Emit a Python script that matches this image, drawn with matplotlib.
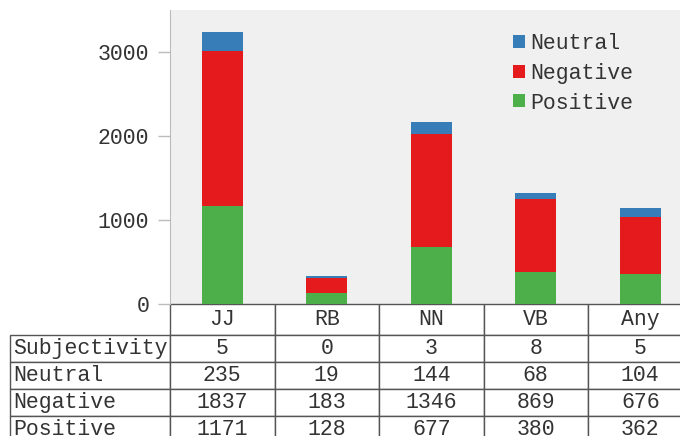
import numpy as np
import matplotlib
matplotlib.use('Agg')
import matplotlib.pyplot as plt

plt.rcParams['font.family'] = ['Liberation Mono', 'DejaVu Sans Mono']

# data
categories = ['JJ', 'RB', 'NN', 'VB', 'Any']
positive = [1171, 128, 677, 380, 362]
negative = [1837, 183, 1346, 869, 676]
neutral = [235, 19, 144, 68, 104]
subjectivity = [5, 0, 3, 8, 5]

c_pos, c_neg, c_neu = '#4daf4a', '#e41a1c', '#377eb8'
fs = 15.5
txt = '#333333'

fig = plt.figure(figsize=(6.8, 4.36), dpi=100)
ax = fig.add_axes([170 / 680, 1 - 304 / 436, 522.5 / 680, 294 / 436])
ax.set_facecolor('#f0f0f0')

x = np.arange(len(categories))
w = 0.39
pos = np.array(positive)
neg = np.array(negative)
neu = np.array(neutral)
ax.bar(x, pos, w, color=c_pos, label='Positive')
ax.bar(x, neg, w, bottom=pos, color=c_neg, label='Negative')
ax.bar(x, neu, w, bottom=pos + neg, color=c_neu, label='Neutral')

ax.set_xlim(-0.5, len(categories) - 0.5)
ax.set_ylim(0, 3500)
ax.set_yticks([0, 1000, 2000, 3000])
ax.set_xticks([])
for s in ['top', 'right', 'bottom']:
    ax.spines[s].set_visible(False)
ax.spines['left'].set_color('#bbbbbb')
ax.tick_params(axis='y', colors='#bbbbbb', labelcolor=txt, labelsize=fs,
               length=9, width=1, pad=6)

# legend (reverse order, like the stacking)
h, l = ax.get_legend_handles_labels()
ax.legend(h[::-1], l[::-1], loc='upper left', frameon=False,
          bbox_to_anchor=(494 / 680, 1 - 14 / 436), bbox_transform=fig.transFigure,
          fontsize=fs, handlelength=0.55, handleheight=0.55, handletextpad=0.25,
          labelspacing=0.4, labelcolor=txt)

# table below the plot
row_labels = ['Subjectivity', 'Neutral', 'Negative', 'Positive']
rows = [subjectivity, neutral, negative, positive]
cell_text = [[''] + categories]
for lab, vals in zip(row_labels, rows):
    cell_text.append([lab] + [str(v) for v in vals])

tbl = ax.table(cellText=cell_text, cellLoc='center',
               colWidths=[160] + [104.5] * len(categories),
               bbox=[-160 / 522.5, -139 / 294, 682.5 / 522.5, 139 / 294])
tbl.auto_set_font_size(False)
for (r, c), cell in tbl.get_celld().items():
    cell.set_height(31 if r == 0 else 27)
    cell.set_edgecolor('#555555')
    cell.set_linewidth(1)
    cell.set_facecolor('white')
    cell.get_text().set_fontsize(fs)
    cell.get_text().set_color(txt)
    if c == 0:
        cell._loc = 'left'
        cell.get_text().set_horizontalalignment('left')
        cell.PAD = 0.02
    if r == 0 and c == 0:
        cell.visible_edges = ''

fig.savefig('out.png', dpi=100)
